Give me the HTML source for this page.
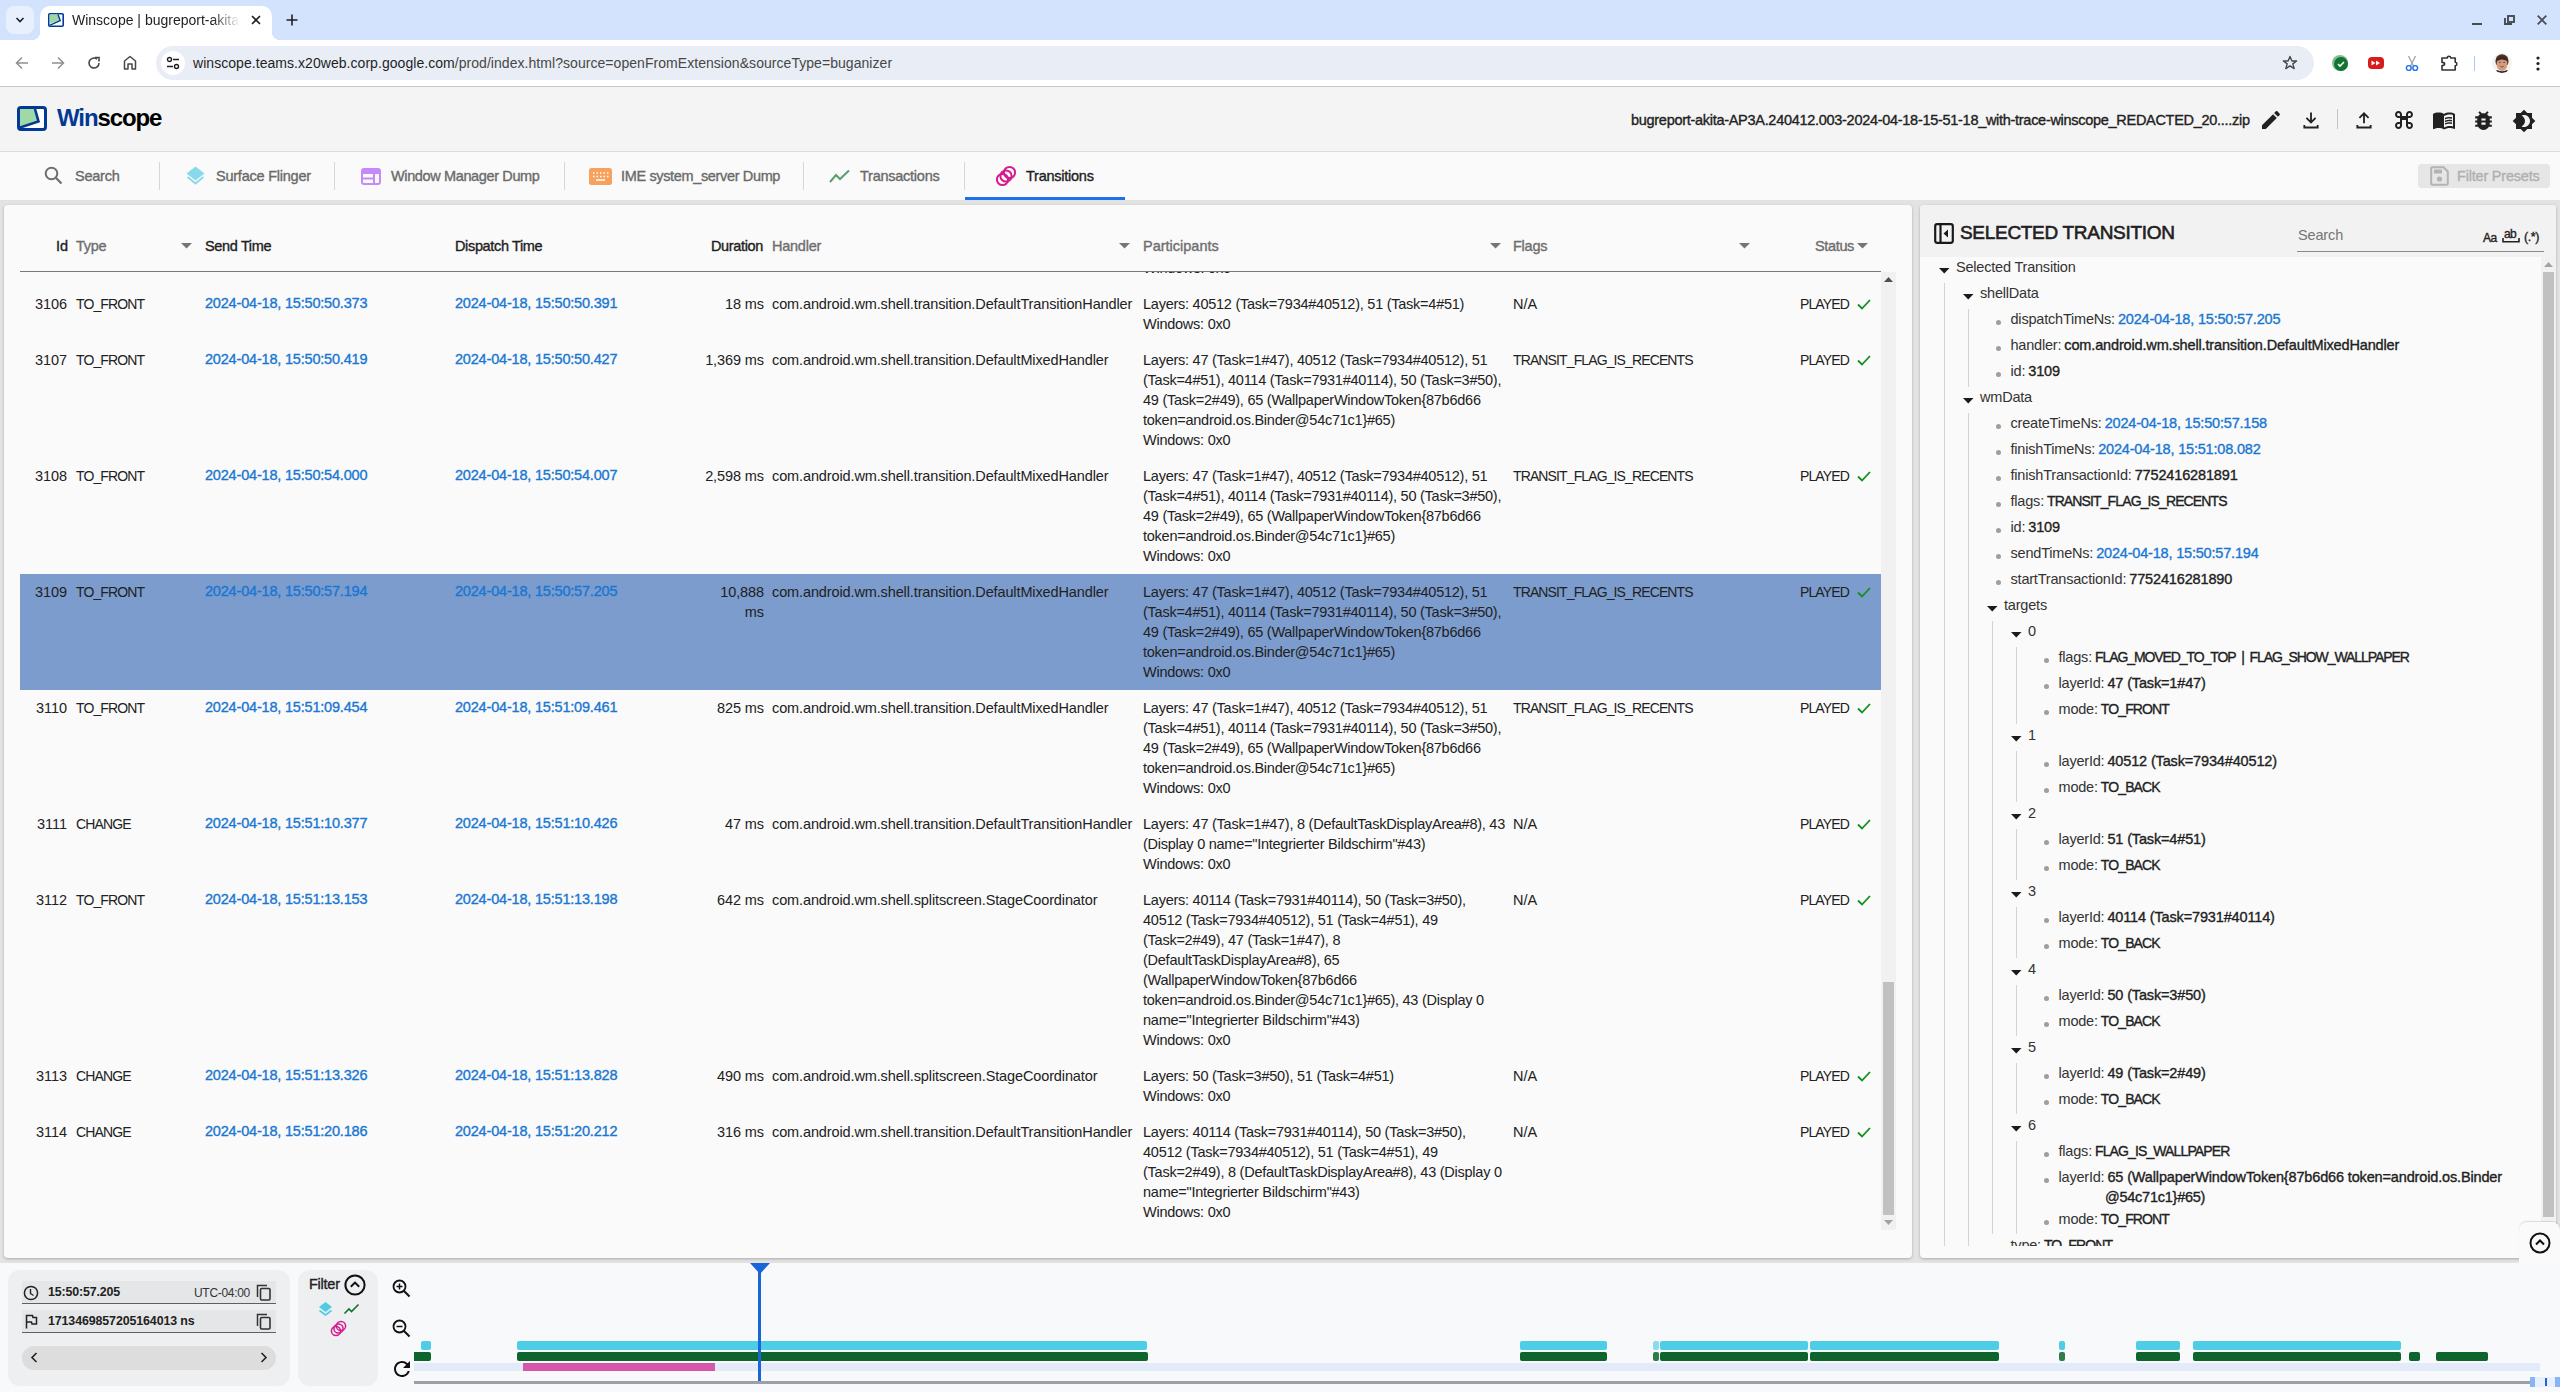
<!DOCTYPE html>
<html><head><meta charset="utf-8"><title>Winscope</title><style>
*{box-sizing:border-box;margin:0;padding:0}
html,body{width:2560px;height:1392px;overflow:hidden;background:#e3e3e3;font-family:"Liberation Sans",sans-serif;color:#212121}
.a{position:absolute}
.t{position:absolute;white-space:nowrap;font-size:14.5px;line-height:20px;letter-spacing:-0.45px}
.up{letter-spacing:-1.5px}
.md{-webkit-text-stroke:0.35px currentColor}
.blue{color:#1976d2}
svg{position:absolute;overflow:visible}
</style></head><body>
<div class="a" style="left:0;top:0;width:2560px;height:40px;background:#d3e3fd"></div>
<div class="a" style="left:6px;top:6px;width:28px;height:28px;border-radius:8px;background:#e8f0fe"></div>
<svg style="left:15px;top:16px" width="10" height="8" viewBox="0 0 10 8"><path d="M1.5 2 L5 5.5 L8.5 2" fill="none" stroke="#1f1f1f" stroke-width="1.6"/></svg>
<div class="a" style="left:40px;top:6px;width:232px;height:34px;background:#fff;border-radius:10px 10px 0 0"></div>
<div class="a" style="left:32px;top:32px;width:8px;height:8px;background:radial-gradient(circle at 0 0,#d3e3fd 8px,#fff 8px)"></div>
<div class="a" style="left:272px;top:32px;width:8px;height:8px;background:radial-gradient(circle at 100% 0,#d3e3fd 8px,#fff 8px)"></div>
<svg style="left:48px;top:13px" width="16" height="14" viewBox="0 0 16 14"><rect x="0.8" y="0.8" width="14.4" height="12.4" rx="1" fill="#fff" stroke="#003a9b" stroke-width="1.6"/><path d="M1.6 1.6 L10 1.6 L12 7.5 L1.6 10.5Z" fill="#9fd7a3"/><path d="M10 1.6 L12.2 7.6 L2 12.2" fill="none" stroke="#003a9b" stroke-width="1.4"/></svg>
<div class="t" style="left:72px;top:10px;font-size:14px;letter-spacing:0;color:#1f1f1f;width:168px;overflow:hidden;-webkit-mask-image:linear-gradient(90deg,#000 140px,transparent 168px)">Winscope | bugreport-akita-AP3A</div>
<svg style="left:251px;top:15px" width="10" height="10" viewBox="0 0 10 10"><path d="M1 1L9 9M9 1L1 9" stroke="#1f1f1f" stroke-width="1.6"/></svg>
<svg style="left:286px;top:14px" width="12" height="12" viewBox="0 0 12 12"><path d="M6 0.5V11.5M0.5 6H11.5" stroke="#1f1f1f" stroke-width="1.6"/></svg>
<div class="a" style="left:2472px;top:23px;width:10px;height:2px;background:#474c52"></div>
<svg style="left:2503px;top:14px" width="13" height="12" viewBox="0 0 13 12"><path d="M2 4V10H9" fill="none" stroke="#474c52" stroke-width="1.9"/><rect x="5" y="2" width="6" height="6" fill="none" stroke="#474c52" stroke-width="1.9"/></svg>
<svg style="left:2537px;top:15px" width="10" height="10" viewBox="0 0 10 10"><path d="M0.7 0.7L9.3 9.3M9.3 0.7L0.7 9.3" stroke="#474c52" stroke-width="1.7"/></svg>
<div class="a" style="left:0;top:40px;width:2560px;height:46px;background:#fff"></div>
<div class="a" style="left:0;top:86px;width:2560px;height:1px;background:#c7c7c7"></div>
<svg style="left:15px;top:56px" width="14" height="14" viewBox="0 0 14 14"><path d="M13 7H2M7 1.5L1.5 7L7 12.5" fill="none" stroke="#8f8f8f" stroke-width="1.5"/></svg>
<svg style="left:51px;top:56px" width="14" height="14" viewBox="0 0 14 14"><path d="M1 7H12M7 1.5L12.5 7L7 12.5" fill="none" stroke="#8f8f8f" stroke-width="1.5"/></svg>
<svg style="left:87px;top:56px" width="14" height="14" viewBox="0 0 14 14"><path d="M12 7A5 5 0 1 1 10 3" fill="none" stroke="#474747" stroke-width="1.6"/><path d="M8 1.5H12V5.5" fill="none" stroke="#474747" stroke-width="1.6"/></svg>
<svg style="left:123px;top:55px" width="14" height="15" viewBox="0 0 14 15"><path d="M1.5 14V6L7 1.5L12.5 6V14H9V9H5V14Z" fill="none" stroke="#474747" stroke-width="1.5" stroke-linejoin="round"/></svg>
<div class="a" style="left:156px;top:46px;width:2158px;height:34px;border-radius:17px;background:#e9eef6"></div>
<div class="a" style="left:161px;top:51px;width:24px;height:24px;border-radius:12px;background:#fff"></div>
<svg style="left:166px;top:56px" width="14" height="14" viewBox="0 0 14 14"><circle cx="3.5" cy="3.5" r="2" fill="none" stroke="#1f1f1f" stroke-width="1.4"/><path d="M7 3.5H13M1 10.5H7" stroke="#1f1f1f" stroke-width="1.4"/><circle cx="10.5" cy="10.5" r="2" fill="none" stroke="#1f1f1f" stroke-width="1.4"/></svg>
<div class="t" style="left:193px;top:53px;font-size:14px;letter-spacing:0.05px;color:#1f1f1f">winscope.teams.x20web.corp.google.com<span style="color:#474747">/prod/index.html?source=openFromExtension&amp;sourceType=buganizer</span></div>
<svg style="left:2282px;top:55px" width="16" height="16" viewBox="0 0 16 16"><path d="M8 1.5L9.9 6H14.6L10.8 8.9L12.2 13.6L8 10.8L3.8 13.6L5.2 8.9L1.4 6H6.1Z" fill="none" stroke="#474747" stroke-width="1.4" stroke-linejoin="round"/></svg>
<div class="a" style="left:2332px;top:55px;width:16px;height:16px;border-radius:8px;background:#7fbf8f"></div>
<div class="a" style="left:2334px;top:57px;width:14px;height:14px;border-radius:7px;background:#137333"></div>
<svg style="left:2337px;top:61px" width="8" height="6" viewBox="0 0 8 6"><path d="M1 3L3 5L7 1" fill="none" stroke="#fff" stroke-width="1.6"/></svg>
<div class="a" style="left:2368px;top:57px;width:16px;height:12px;border-radius:4px;background:#d81b1b"></div>
<svg style="left:2371px;top:60px" width="10" height="6" viewBox="0 0 10 6"><path d="M0.5 0.5L4.5 3L0.5 5.5ZM5 0.5L9 3L5 5.5Z" fill="#fff"/></svg>
<svg style="left:2405px;top:55px" width="14" height="17" viewBox="0 0 14 17"><path d="M3.5 1L8.5 11M10.5 1L5.5 11" stroke="#9aa0a6" stroke-width="1.2"/><circle cx="3.8" cy="13" r="2.4" fill="none" stroke="#1a73e8" stroke-width="1.4"/><circle cx="10.2" cy="13" r="2.4" fill="none" stroke="#1a73e8" stroke-width="1.4"/></svg>
<svg style="left:2440px;top:53px" width="19" height="19" viewBox="0 0 19 19"><path d="M2 5H7.3A1.7 1.7 0 0 1 10.7 5H15.2V9.3A1.7 1.7 0 0 1 15.2 12.7V17H2V12.6Q4.6 12.6 4.6 11Q4.6 9.4 2 9.4Z" fill="none" stroke="#333" stroke-width="1.6" stroke-linejoin="round"/></svg>
<div class="a" style="left:2474px;top:56px;width:1px;height:15px;background:#a8c7fa"></div>
<svg style="left:2492px;top:53px" width="20" height="20" viewBox="0 0 20 20"><defs><clipPath id="avc"><circle cx="10" cy="10" r="10"/></clipPath></defs><g clip-path="url(#avc)"><rect width="20" height="20" fill="#f4f2ea"/><ellipse cx="10" cy="8" rx="6.6" ry="6.8" fill="#4a3328"/><ellipse cx="10" cy="11" rx="5.4" ry="7" fill="#d49a80"/><path d="M4.5 5.5Q10 1.5 15.5 5.5L15 8Q10 5 5 8Z" fill="#3e2a20"/><path d="M7 9.3H8.6M11.4 9.3H13" stroke="#5a3a30" stroke-width="1"/><path d="M8.5 13.5Q10 14.2 11.5 13.5" stroke="#8a4a40" stroke-width="1" fill="none"/><path d="M2 20L5 17Q10 19.5 15 17L18 20Z" fill="#2a2030"/></g></svg>
<svg style="left:2536px;top:56px" width="4" height="15" viewBox="0 0 4 15"><circle cx="2" cy="2" r="1.6" fill="#1f1f1f"/><circle cx="2" cy="7.5" r="1.6" fill="#1f1f1f"/><circle cx="2" cy="13" r="1.6" fill="#1f1f1f"/></svg>
<div class="a" style="left:0;top:87px;width:2560px;height:64px;background:#f4f4f4"></div>
<div class="a" style="left:0;top:151px;width:2560px;height:1px;background:#dcdcdc"></div>
<svg style="left:17px;top:106px" width="30" height="25" viewBox="0 0 30 25"><rect x="1.5" y="1.5" width="27" height="22" rx="2.5" fill="#fff" stroke="#003a96" stroke-width="3"/><path d="M3 3H18L21.5 15.5L3 20Z" fill="#9fd9a5"/><path d="M18 3L21.5 15.5L3 21.5" fill="none" stroke="#003a96" stroke-width="2.6"/></svg>
<div class="t" style="left:57px;top:104px;font-size:24px;line-height:28px;font-weight:700;letter-spacing:-1.1px;color:#000"><span style="color:#003a96">Win</span>scope</div>
<div class="t md" style="left:1631px;top:110px;font-size:14.5px;letter-spacing:-0.29px;color:#212121">bugreport-akita-AP3A.240412.003-2024-04-18-15-51-18_with-trace-winscope_REDACTED_20....zip</div>
<svg style="left:2259px;top:108px" width="24" height="24" viewBox="0 0 24 24"><path d="M3 17.25V21h3.75L17.81 9.94l-3.75-3.75L3 17.25zM20.71 7.04c.39-.39.39-1.02 0-1.41l-2.34-2.34c-.39-.39-1.02-.39-1.41 0l-1.830 1.83 3.75 3.75 1.83-1.83z" fill="#212121"/></svg>
<svg style="left:2301px;top:110px" width="20" height="20" viewBox="0 0 24 24"><path d="M12 3V15M6.5 9.5L12 15L17.5 9.5M4 18V21H20V18" fill="none" stroke="#212121" stroke-width="2.2"/></svg>
<div class="a" style="left:2337px;top:109px;width:1px;height:20px;background:#c4c4c4"></div>
<svg style="left:2354px;top:110px" width="20" height="20" viewBox="0 0 24 24"><path d="M12 16V4M6.5 9.5L12 4L17.5 9.5M4 18V21H20V18" fill="none" stroke="#212121" stroke-width="2.2"/></svg>
<svg style="left:2392px;top:108px" width="24" height="24" viewBox="0 0 24 24"><path d="M17.5 3C15.57 3 14 4.57 14 6.5V8h-4V6.5C10 4.570 8.43 3 6.5 3S3 4.57 3 6.5 4.57 10 6.5 10H8v4H6.5C4.57 14 3 15.57 3 17.5S4.57 21 6.5 21s3.5-1.57 3.5-3.5V16h4v1.5c0 1.93 1.57 3.5 3.5 3.5s3.5-1.57 3.5-3.5-1.57-3.5-3.5-3.5H16v-4h1.5c1.93 0 3.5-1.57 3.5-3.5S19.43 3 17.5 3zM8 8H6.5C5.67 8 5 7.33 5 6.5S5.67 5 6.5 5 8 5.67 8 6.5V8zm6 8h-4v-4h4v4zm3.5 3c-.83 0-1.5-.67-1.5-1.5V16h1.5c.83 0 1.5.67 1.5 1.5s-.67 1.5-1.5 1.5zm0-11H16V6.5c0-.83.67-1.5 1.5-1.5s1.5.67 1.5 1.5S18.330 8 17.5 8zM6.5 19c-.83 0-1.5-.67-1.5-1.5S5.67 16 6.5 16H8v1.5c0 .83-.67 1.5-1.5 1.5z" fill="#212121"/></svg>
<svg style="left:2432px;top:107.5px" width="24" height="24" viewBox="0 0 24 24"><path fill-rule="evenodd" d="M21 5c-1.11-.35-2.33-.5-3.5-.5-1.95 0-4.05.4-5.5 1.5-1.45-1.1-3.55-1.5-5.5-1.5S2.45 4.9 1 6v14.65c0 .25.25.5.5.5.1 0 .15-.05.25-.05C3.1 20.45 5.05 20 6.5 20c1.95 0 4.05.4 5.5 1.5 1.35-.85 3.8-1.5 5.5-1.5 1.65 0 3.35.3 4.75 1.05.1.05.15.05.25.05.25 0 .5-.25.5-.5V6c-.6-.45-1.25-.75-2-1zm0 13.5c-1.1-.35-2.3-.5-3.5-.5-1.7 0-4.15.65-5.5 1.5V8c1.35-.85 3.8-1.5 5.5-1.5 1.2 0 2.4.15 3.5.5v11.5z" fill="#212121"/><path d="M17.5 10.5c.88 0 1.73.09 2.5.26V9.24c-.79-.15-1.64-.24-2.5-.24-1.7 0-3.24.29-4.5.83v1.66c1.13-.64 2.7-.99 4.5-.99zM13 12.49v1.66c1.13-.64 2.7-.99 4.5-.99.88 0 1.73.09 2.5.26V11.9c-.79-.15-1.640-.24-2.5-.24-1.7 0-3.24.3-4.5.83zM17.5 14.33c-1.7 0-3.24.29-4.5.83v1.66c1.13-.64 2.7-.99 4.5-.99.88 0 1.73.09 2.5.26v-1.52c-.79-.16-1.64-.24-2.5-.24z" fill="#212121"/></svg>
<svg style="left:2470.8px;top:107.9px" width="25" height="25" viewBox="0 0 24 24"><path d="M20 8h-2.81c-.45-.78-1.07-1.45-1.82-1.96L17 4.41 15.59 3l-2.17 2.17C12.96 5.06 12.49 5 12 5c-.49 0-.96.06-1.41.17L8.41 3 7 4.41l1.62 1.63C7.88 6.55 7.26 7.22 6.81 8H4v2h2.09c-.05.33-.09.66-.09 1v1H4v2h2v1c0 .34.04.67.09 1H4v2h2.81c1.04 1.79 2.97 3 5.19 3s4.150-1.21 5.19-3H20v-2h-2.09c.05-.33.09-.66.09-1v-1h2v-2h-2v-1c0-.34-.04-.67-.09-1H20V8zm-6 8h-4v-2h4v2zm0-4h-4v-2h4v2z" fill="#212121"/></svg>
<svg style="left:2512px;top:108.5px" width="24" height="24" viewBox="0 0 24 24"><path fill-rule="evenodd" d="M20 8.69V4h-4.69L12 .69 8.69 4H4v4.69L.69 12 4 15.31V20h4.69L12 23.31 15.31 20H20v-4.69L23.31 12 20 8.69zM12 18c-.89 0-1.74-.2-2.5-.55C11.56 16.5 13 14.42 13 12s-1.44-4.5-3.5-5.45C10.26 6.2 11.11 6 12 6c3.31 0 6 2.69 6 6s-2.69 6-6 6z" fill="#212121"/></svg>
<div class="a" style="left:0;top:152px;width:2560px;height:48px;background:#fafafa"></div>
<div class="a" style="left:159px;top:162px;width:1px;height:28px;background:#d6d6d6"></div>
<div class="a" style="left:334px;top:162px;width:1px;height:28px;background:#d6d6d6"></div>
<div class="a" style="left:564px;top:162px;width:1px;height:28px;background:#d6d6d6"></div>
<div class="a" style="left:803px;top:162px;width:1px;height:28px;background:#d6d6d6"></div>
<div class="a" style="left:964px;top:162px;width:1px;height:28px;background:#d6d6d6"></div>
<svg style="left:44px;top:166px" width="19" height="19" viewBox="0 0 19 19"><circle cx="7.5" cy="7.5" r="5.8" fill="none" stroke="#6e6e6e" stroke-width="2"/><path d="M11.8 11.8L17.5 17.5" stroke="#6e6e6e" stroke-width="2.2"/></svg>
<div class="t md" style="left:75px;top:166px;color:#6a6a6a;letter-spacing:-0.25px">Search</div>
<svg style="left:186px;top:166px" width="19" height="20" viewBox="0 0 19 20"><path d="M9.5 0.5L18.5 7.5L9.5 14.5L0.5 7.5Z" fill="#8ad9ea"/><path d="M1.5 11L9.5 17.5L17.5 11" fill="none" stroke="#8ad9ea" stroke-width="2"/></svg>
<div class="t md" style="left:216px;top:166px;color:#6a6a6a;letter-spacing:-0.23px">Surface Flinger</div>
<svg style="left:361px;top:168px" width="20" height="17" viewBox="0 0 20 17"><rect x="1" y="1" width="18" height="15" rx="2" fill="none" stroke="#c58af9" stroke-width="2"/><rect x="1" y="1" width="18" height="5" fill="#c58af9"/><path d="M1 10.5H13M13 6V16" stroke="#c58af9" stroke-width="2"/></svg>
<div class="t md" style="left:391px;top:166px;color:#6a6a6a;letter-spacing:-0.37px">Window Manager Dump</div>
<svg style="left:589px;top:168px" width="23" height="17" viewBox="0 0 23 17"><rect x="0" y="0" width="23" height="17" rx="2.5" fill="#f7a15c"/><path d="M4 5H5.5M7.5 5H9M11 5H12.5M14.5 5H16M18 5H19.5M4 8.5H5.5M7.5 8.5H9M11 8.5H12.5M14.5 8.5H16M18 8.5H19.5M7 12H16" stroke="#fff" stroke-width="1.6"/></svg>
<div class="t md" style="left:621px;top:166px;color:#6a6a6a;letter-spacing:-0.35px">IME system_server Dump</div>
<svg style="left:829px;top:169px" width="21" height="14" viewBox="0 0 21 14"><path d="M1 13L7 6L11 10L20 1.5" fill="none" stroke="#5b9e6e" stroke-width="2"/></svg>
<div class="t md" style="left:860px;top:166px;color:#6a6a6a;letter-spacing:-0.25px">Transactions</div>
<svg style="left:995px;top:165px" width="22" height="22" viewBox="0 0 22 22"><circle cx="7.5" cy="14.5" r="5.6" fill="none" stroke="#d61b8f" stroke-width="2"/><circle cx="11" cy="11" r="5.6" fill="none" stroke="#d61b8f" stroke-width="2"/><circle cx="14.5" cy="7.5" r="5.6" fill="none" stroke="#d61b8f" stroke-width="2"/></svg>
<div class="t md" style="left:1026px;top:166px;color:#212121;letter-spacing:-0.25px">Transitions</div>
<div class="a" style="left:965px;top:197px;width:160px;height:3px;background:#1a73e8"></div>
<div class="a" style="left:2418px;top:164px;width:132px;height:24px;border-radius:4px;background:#e6e6e6"></div>
<svg style="left:2430px;top:166px" width="19" height="20" viewBox="0 0 19 20"><path d="M2.5 1.2H13.5L17.8 5.5V17.5A1.3 1.3 0 0 1 16.5 18.8H2.5A1.3 1.3 0 0 1 1.2 17.5V2.5A1.3 1.3 0 0 1 2.5 1.2Z" fill="none" stroke="#b3b3b3" stroke-width="2"/><rect x="4" y="3.5" width="8" height="4" fill="#b3b3b3"/><circle cx="9.5" cy="13" r="2.6" fill="#b3b3b3"/></svg>
<div class="t md" style="left:2457px;top:166px;color:#b0b0b0;letter-spacing:-0.20px">Filter Presets</div>
<div class="a" style="left:4px;top:205px;width:1908px;height:1053px;background:#fafafa;border-radius:4px;box-shadow:0 1px 3px rgba(0,0,0,0.25)"></div>
<div class="a" style="left:1920px;top:205px;width:636px;height:1053px;background:#fafafa;border-radius:4px;box-shadow:0 1px 3px rgba(0,0,0,0.25)"></div>
<div class="a" style="left:20px;top:272px;width:1861px;height:958px;overflow:hidden">
<div class="t" style="left:1123px;top:-14px;color:#212121;letter-spacing:-0.2px">Windows: 0x0</div>
<div class="t" style="right:1814px;top:22px;color:#212121;letter-spacing:-0.05px">3106</div>
<div class="t up" style="font-size:14px;letter-spacing:-0.88px;left:56px;top:22px;color:#212121">TO_FRONT</div>
<div class="t md blue" style="left:185px;top:21px;letter-spacing:-0.19px">2024-04-18, 15:50:50.373</div>
<div class="t md blue" style="left:435px;top:21px;letter-spacing:-0.19px">2024-04-18, 15:50:50.391</div>
<div class="t" style="right:1117px;top:22px;color:#212121;letter-spacing:-0.10px">18 ms</div>
<div class="t" style="left:752px;top:22px;color:#212121;letter-spacing:-0.12px">com.android.wm.shell.transition.DefaultTransitionHandler</div>
<div class="t" style="left:1123px;top:22px;color:#212121;letter-spacing:-0.25px">Layers: 40512 (Task=7934#40512), 51 (Task=4#51)</div>
<div class="t" style="left:1123px;top:42px;color:#212121;letter-spacing:-0.25px">Windows: 0x0</div>
<div class="t" style="left:1493px;top:22px;color:#212121;letter-spacing:-0.05px">N/A</div>
<div class="t up" style="font-size:14px;letter-spacing:-0.88px;left:1780px;top:22px;color:#212121">PLAYED</div>
<svg style="left:1837px;top:27px" width="14" height="11" viewBox="0 0 14 11"><path d="M1 5.5L5 9.5L13 1" fill="none" stroke="#12901c" stroke-width="1.8"/></svg>
<div class="t" style="right:1814px;top:78px;color:#212121;letter-spacing:-0.05px">3107</div>
<div class="t up" style="font-size:14px;letter-spacing:-0.88px;left:56px;top:78px;color:#212121">TO_FRONT</div>
<div class="t md blue" style="left:185px;top:77px;letter-spacing:-0.19px">2024-04-18, 15:50:50.419</div>
<div class="t md blue" style="left:435px;top:77px;letter-spacing:-0.19px">2024-04-18, 15:50:50.427</div>
<div class="t" style="right:1117px;top:78px;color:#212121;letter-spacing:-0.10px">1,369 ms</div>
<div class="t" style="left:752px;top:78px;color:#212121;letter-spacing:-0.12px">com.android.wm.shell.transition.DefaultMixedHandler</div>
<div class="t" style="left:1123px;top:78px;color:#212121;letter-spacing:-0.25px">Layers: 47 (Task=1#47), 40512 (Task=7934#40512), 51</div>
<div class="t" style="left:1123px;top:98px;color:#212121;letter-spacing:-0.25px">(Task=4#51), 40114 (Task=7931#40114), 50 (Task=3#50),</div>
<div class="t" style="left:1123px;top:118px;color:#212121;letter-spacing:-0.25px">49 (Task=2#49), 65 (WallpaperWindowToken{87b6d66</div>
<div class="t" style="left:1123px;top:138px;color:#212121;letter-spacing:-0.25px">token=android.os.Binder@54c71c1}#65)</div>
<div class="t" style="left:1123px;top:158px;color:#212121;letter-spacing:-0.25px">Windows: 0x0</div>
<div class="t up" style="font-size:14px;letter-spacing:-0.88px;left:1493px;top:78px;color:#212121">TRANSIT_FLAG_IS_RECENTS</div>
<div class="t up" style="font-size:14px;letter-spacing:-0.88px;left:1780px;top:78px;color:#212121">PLAYED</div>
<svg style="left:1837px;top:83px" width="14" height="11" viewBox="0 0 14 11"><path d="M1 5.5L5 9.5L13 1" fill="none" stroke="#12901c" stroke-width="1.8"/></svg>
<div class="t" style="right:1814px;top:194px;color:#212121;letter-spacing:-0.05px">3108</div>
<div class="t up" style="font-size:14px;letter-spacing:-0.88px;left:56px;top:194px;color:#212121">TO_FRONT</div>
<div class="t md blue" style="left:185px;top:193px;letter-spacing:-0.19px">2024-04-18, 15:50:54.000</div>
<div class="t md blue" style="left:435px;top:193px;letter-spacing:-0.19px">2024-04-18, 15:50:54.007</div>
<div class="t" style="right:1117px;top:194px;color:#212121;letter-spacing:-0.10px">2,598 ms</div>
<div class="t" style="left:752px;top:194px;color:#212121;letter-spacing:-0.12px">com.android.wm.shell.transition.DefaultMixedHandler</div>
<div class="t" style="left:1123px;top:194px;color:#212121;letter-spacing:-0.25px">Layers: 47 (Task=1#47), 40512 (Task=7934#40512), 51</div>
<div class="t" style="left:1123px;top:214px;color:#212121;letter-spacing:-0.25px">(Task=4#51), 40114 (Task=7931#40114), 50 (Task=3#50),</div>
<div class="t" style="left:1123px;top:234px;color:#212121;letter-spacing:-0.25px">49 (Task=2#49), 65 (WallpaperWindowToken{87b6d66</div>
<div class="t" style="left:1123px;top:254px;color:#212121;letter-spacing:-0.25px">token=android.os.Binder@54c71c1}#65)</div>
<div class="t" style="left:1123px;top:274px;color:#212121;letter-spacing:-0.25px">Windows: 0x0</div>
<div class="t up" style="font-size:14px;letter-spacing:-0.88px;left:1493px;top:194px;color:#212121">TRANSIT_FLAG_IS_RECENTS</div>
<div class="t up" style="font-size:14px;letter-spacing:-0.88px;left:1780px;top:194px;color:#212121">PLAYED</div>
<svg style="left:1837px;top:199px" width="14" height="11" viewBox="0 0 14 11"><path d="M1 5.5L5 9.5L13 1" fill="none" stroke="#12901c" stroke-width="1.8"/></svg>
<div class="a" style="left:0;top:302px;width:1861px;height:116px;background:#7b9ccd"></div>
<div class="t" style="right:1814px;top:310px;color:#212121;letter-spacing:-0.05px">3109</div>
<div class="t up" style="font-size:14px;letter-spacing:-0.88px;left:56px;top:310px;color:#212121">TO_FRONT</div>
<div class="t md blue" style="left:185px;top:309px;letter-spacing:-0.19px">2024-04-18, 15:50:57.194</div>
<div class="t md blue" style="left:435px;top:309px;letter-spacing:-0.19px">2024-04-18, 15:50:57.205</div>
<div class="t" style="right:1117px;top:310px;color:#212121;letter-spacing:-0.10px">10,888</div>
<div class="t" style="right:1117px;top:330px;color:#212121;letter-spacing:-0.10px">ms</div>
<div class="t" style="left:752px;top:310px;color:#212121;letter-spacing:-0.12px">com.android.wm.shell.transition.DefaultMixedHandler</div>
<div class="t" style="left:1123px;top:310px;color:#212121;letter-spacing:-0.25px">Layers: 47 (Task=1#47), 40512 (Task=7934#40512), 51</div>
<div class="t" style="left:1123px;top:330px;color:#212121;letter-spacing:-0.25px">(Task=4#51), 40114 (Task=7931#40114), 50 (Task=3#50),</div>
<div class="t" style="left:1123px;top:350px;color:#212121;letter-spacing:-0.25px">49 (Task=2#49), 65 (WallpaperWindowToken{87b6d66</div>
<div class="t" style="left:1123px;top:370px;color:#212121;letter-spacing:-0.25px">token=android.os.Binder@54c71c1}#65)</div>
<div class="t" style="left:1123px;top:390px;color:#212121;letter-spacing:-0.25px">Windows: 0x0</div>
<div class="t up" style="font-size:14px;letter-spacing:-0.88px;left:1493px;top:310px;color:#212121">TRANSIT_FLAG_IS_RECENTS</div>
<div class="t up" style="font-size:14px;letter-spacing:-0.88px;left:1780px;top:310px;color:#212121">PLAYED</div>
<svg style="left:1837px;top:315px" width="14" height="11" viewBox="0 0 14 11"><path d="M1 5.5L5 9.5L13 1" fill="none" stroke="#12901c" stroke-width="1.8"/></svg>
<div class="t" style="right:1814px;top:426px;color:#212121;letter-spacing:-0.05px">3110</div>
<div class="t up" style="font-size:14px;letter-spacing:-0.88px;left:56px;top:426px;color:#212121">TO_FRONT</div>
<div class="t md blue" style="left:185px;top:425px;letter-spacing:-0.19px">2024-04-18, 15:51:09.454</div>
<div class="t md blue" style="left:435px;top:425px;letter-spacing:-0.19px">2024-04-18, 15:51:09.461</div>
<div class="t" style="right:1117px;top:426px;color:#212121;letter-spacing:-0.10px">825 ms</div>
<div class="t" style="left:752px;top:426px;color:#212121;letter-spacing:-0.12px">com.android.wm.shell.transition.DefaultMixedHandler</div>
<div class="t" style="left:1123px;top:426px;color:#212121;letter-spacing:-0.25px">Layers: 47 (Task=1#47), 40512 (Task=7934#40512), 51</div>
<div class="t" style="left:1123px;top:446px;color:#212121;letter-spacing:-0.25px">(Task=4#51), 40114 (Task=7931#40114), 50 (Task=3#50),</div>
<div class="t" style="left:1123px;top:466px;color:#212121;letter-spacing:-0.25px">49 (Task=2#49), 65 (WallpaperWindowToken{87b6d66</div>
<div class="t" style="left:1123px;top:486px;color:#212121;letter-spacing:-0.25px">token=android.os.Binder@54c71c1}#65)</div>
<div class="t" style="left:1123px;top:506px;color:#212121;letter-spacing:-0.25px">Windows: 0x0</div>
<div class="t up" style="font-size:14px;letter-spacing:-0.88px;left:1493px;top:426px;color:#212121">TRANSIT_FLAG_IS_RECENTS</div>
<div class="t up" style="font-size:14px;letter-spacing:-0.88px;left:1780px;top:426px;color:#212121">PLAYED</div>
<svg style="left:1837px;top:431px" width="14" height="11" viewBox="0 0 14 11"><path d="M1 5.5L5 9.5L13 1" fill="none" stroke="#12901c" stroke-width="1.8"/></svg>
<div class="t" style="right:1814px;top:542px;color:#212121;letter-spacing:-0.05px">3111</div>
<div class="t up" style="font-size:14px;letter-spacing:-0.88px;left:56px;top:542px;color:#212121">CHANGE</div>
<div class="t md blue" style="left:185px;top:541px;letter-spacing:-0.19px">2024-04-18, 15:51:10.377</div>
<div class="t md blue" style="left:435px;top:541px;letter-spacing:-0.19px">2024-04-18, 15:51:10.426</div>
<div class="t" style="right:1117px;top:542px;color:#212121;letter-spacing:-0.10px">47 ms</div>
<div class="t" style="left:752px;top:542px;color:#212121;letter-spacing:-0.12px">com.android.wm.shell.transition.DefaultTransitionHandler</div>
<div class="t" style="left:1123px;top:542px;color:#212121;letter-spacing:-0.25px">Layers: 47 (Task=1#47), 8 (DefaultTaskDisplayArea#8), 43</div>
<div class="t" style="left:1123px;top:562px;color:#212121;letter-spacing:-0.25px">(Display 0 name="Integrierter Bildschirm"#43)</div>
<div class="t" style="left:1123px;top:582px;color:#212121;letter-spacing:-0.25px">Windows: 0x0</div>
<div class="t" style="left:1493px;top:542px;color:#212121;letter-spacing:-0.05px">N/A</div>
<div class="t up" style="font-size:14px;letter-spacing:-0.88px;left:1780px;top:542px;color:#212121">PLAYED</div>
<svg style="left:1837px;top:547px" width="14" height="11" viewBox="0 0 14 11"><path d="M1 5.5L5 9.5L13 1" fill="none" stroke="#12901c" stroke-width="1.8"/></svg>
<div class="t" style="right:1814px;top:618px;color:#212121;letter-spacing:-0.05px">3112</div>
<div class="t up" style="font-size:14px;letter-spacing:-0.88px;left:56px;top:618px;color:#212121">TO_FRONT</div>
<div class="t md blue" style="left:185px;top:617px;letter-spacing:-0.19px">2024-04-18, 15:51:13.153</div>
<div class="t md blue" style="left:435px;top:617px;letter-spacing:-0.19px">2024-04-18, 15:51:13.198</div>
<div class="t" style="right:1117px;top:618px;color:#212121;letter-spacing:-0.10px">642 ms</div>
<div class="t" style="left:752px;top:618px;color:#212121;letter-spacing:-0.12px">com.android.wm.shell.splitscreen.StageCoordinator</div>
<div class="t" style="left:1123px;top:618px;color:#212121;letter-spacing:-0.25px">Layers: 40114 (Task=7931#40114), 50 (Task=3#50),</div>
<div class="t" style="left:1123px;top:638px;color:#212121;letter-spacing:-0.25px">40512 (Task=7934#40512), 51 (Task=4#51), 49</div>
<div class="t" style="left:1123px;top:658px;color:#212121;letter-spacing:-0.25px">(Task=2#49), 47 (Task=1#47), 8</div>
<div class="t" style="left:1123px;top:678px;color:#212121;letter-spacing:-0.25px">(DefaultTaskDisplayArea#8), 65</div>
<div class="t" style="left:1123px;top:698px;color:#212121;letter-spacing:-0.25px">(WallpaperWindowToken{87b6d66</div>
<div class="t" style="left:1123px;top:718px;color:#212121;letter-spacing:-0.25px">token=android.os.Binder@54c71c1}#65), 43 (Display 0</div>
<div class="t" style="left:1123px;top:738px;color:#212121;letter-spacing:-0.25px">name="Integrierter Bildschirm"#43)</div>
<div class="t" style="left:1123px;top:758px;color:#212121;letter-spacing:-0.25px">Windows: 0x0</div>
<div class="t" style="left:1493px;top:618px;color:#212121;letter-spacing:-0.05px">N/A</div>
<div class="t up" style="font-size:14px;letter-spacing:-0.88px;left:1780px;top:618px;color:#212121">PLAYED</div>
<svg style="left:1837px;top:623px" width="14" height="11" viewBox="0 0 14 11"><path d="M1 5.5L5 9.5L13 1" fill="none" stroke="#12901c" stroke-width="1.8"/></svg>
<div class="t" style="right:1814px;top:794px;color:#212121;letter-spacing:-0.05px">3113</div>
<div class="t up" style="font-size:14px;letter-spacing:-0.88px;left:56px;top:794px;color:#212121">CHANGE</div>
<div class="t md blue" style="left:185px;top:793px;letter-spacing:-0.19px">2024-04-18, 15:51:13.326</div>
<div class="t md blue" style="left:435px;top:793px;letter-spacing:-0.19px">2024-04-18, 15:51:13.828</div>
<div class="t" style="right:1117px;top:794px;color:#212121;letter-spacing:-0.10px">490 ms</div>
<div class="t" style="left:752px;top:794px;color:#212121;letter-spacing:-0.12px">com.android.wm.shell.splitscreen.StageCoordinator</div>
<div class="t" style="left:1123px;top:794px;color:#212121;letter-spacing:-0.25px">Layers: 50 (Task=3#50), 51 (Task=4#51)</div>
<div class="t" style="left:1123px;top:814px;color:#212121;letter-spacing:-0.25px">Windows: 0x0</div>
<div class="t" style="left:1493px;top:794px;color:#212121;letter-spacing:-0.05px">N/A</div>
<div class="t up" style="font-size:14px;letter-spacing:-0.88px;left:1780px;top:794px;color:#212121">PLAYED</div>
<svg style="left:1837px;top:799px" width="14" height="11" viewBox="0 0 14 11"><path d="M1 5.5L5 9.5L13 1" fill="none" stroke="#12901c" stroke-width="1.8"/></svg>
<div class="t" style="right:1814px;top:850px;color:#212121;letter-spacing:-0.05px">3114</div>
<div class="t up" style="font-size:14px;letter-spacing:-0.88px;left:56px;top:850px;color:#212121">CHANGE</div>
<div class="t md blue" style="left:185px;top:849px;letter-spacing:-0.19px">2024-04-18, 15:51:20.186</div>
<div class="t md blue" style="left:435px;top:849px;letter-spacing:-0.19px">2024-04-18, 15:51:20.212</div>
<div class="t" style="right:1117px;top:850px;color:#212121;letter-spacing:-0.10px">316 ms</div>
<div class="t" style="left:752px;top:850px;color:#212121;letter-spacing:-0.12px">com.android.wm.shell.transition.DefaultTransitionHandler</div>
<div class="t" style="left:1123px;top:850px;color:#212121;letter-spacing:-0.25px">Layers: 40114 (Task=7931#40114), 50 (Task=3#50),</div>
<div class="t" style="left:1123px;top:870px;color:#212121;letter-spacing:-0.25px">40512 (Task=7934#40512), 51 (Task=4#51), 49</div>
<div class="t" style="left:1123px;top:890px;color:#212121;letter-spacing:-0.25px">(Task=2#49), 8 (DefaultTaskDisplayArea#8), 43 (Display 0</div>
<div class="t" style="left:1123px;top:910px;color:#212121;letter-spacing:-0.25px">name="Integrierter Bildschirm"#43)</div>
<div class="t" style="left:1123px;top:930px;color:#212121;letter-spacing:-0.25px">Windows: 0x0</div>
<div class="t" style="left:1493px;top:850px;color:#212121;letter-spacing:-0.05px">N/A</div>
<div class="t up" style="font-size:14px;letter-spacing:-0.88px;left:1780px;top:850px;color:#212121">PLAYED</div>
<svg style="left:1837px;top:855px" width="14" height="11" viewBox="0 0 14 11"><path d="M1 5.5L5 9.5L13 1" fill="none" stroke="#12901c" stroke-width="1.8"/></svg>
</div>
<div class="t md" style="left:56px;top:236px;color:#212121;letter-spacing:-0.05px">Id</div>
<div class="t md" style="left:76px;top:236px;color:#6e6e6e;letter-spacing:-0.25px">Type</div>
<div class="t md" style="left:205px;top:236px;color:#212121;letter-spacing:-0.35px">Send Time</div>
<div class="t md" style="left:455px;top:236px;color:#212121;letter-spacing:-0.35px">Dispatch Time</div>
<div class="t md" style="left:711px;top:236px;color:#212121;letter-spacing:-0.35px">Duration</div>
<div class="t md" style="left:772px;top:236px;color:#6e6e6e;letter-spacing:-0.25px">Handler</div>
<div class="t md" style="left:1143px;top:236px;color:#6e6e6e;letter-spacing:0.00px">Participants</div>
<div class="t md" style="left:1513px;top:236px;color:#6e6e6e;letter-spacing:-0.25px">Flags</div>
<div class="t md" style="left:1815px;top:236px;color:#6e6e6e;letter-spacing:-0.35px">Status</div>
<svg style="left:181px;top:243px" width="11" height="6" viewBox="0 0 11 6"><path d="M0 0H11L5.5 5.5Z" fill="#757575"/></svg>
<svg style="left:1119px;top:243px" width="11" height="6" viewBox="0 0 11 6"><path d="M0 0H11L5.5 5.5Z" fill="#757575"/></svg>
<svg style="left:1490px;top:243px" width="11" height="6" viewBox="0 0 11 6"><path d="M0 0H11L5.5 5.5Z" fill="#757575"/></svg>
<svg style="left:1739px;top:243px" width="11" height="6" viewBox="0 0 11 6"><path d="M0 0H11L5.5 5.5Z" fill="#757575"/></svg>
<svg style="left:1857px;top:243px" width="11" height="6" viewBox="0 0 11 6"><path d="M0 0H11L5.5 5.5Z" fill="#757575"/></svg>
<div class="a" style="left:20px;top:271px;width:1861px;height:1px;background:#7a7a7a"></div>
<div class="a" style="left:1881px;top:272px;width:15px;height:958px;background:#f1f1f1"></div>
<svg style="left:1884px;top:277px" width="9" height="5" viewBox="0 0 9 5"><path d="M0 5H9L4.5 0Z" fill="#505050"/></svg>
<svg style="left:1884px;top:1220px" width="9" height="5" viewBox="0 0 9 5"><path d="M0 0H9L4.5 5Z" fill="#a3a3a3"/></svg>
<div class="a" style="left:1883px;top:982px;width:11px;height:233px;background:#c1c1c1"></div>
<div class="a" style="left:1920px;top:205px;width:636px;height:52px;background:#f2f2f2;border-radius:4px 4px 0 0"></div>
<svg style="left:1934px;top:223px" width="20" height="21" viewBox="0 0 20 21"><rect x="1.2" y="1.2" width="17.6" height="18.6" rx="2" fill="none" stroke="#1a1a1a" stroke-width="2.2"/><path d="M6.5 1.5V19.5" stroke="#1a1a1a" stroke-width="2.2"/><path d="M14 6.5V14.5L9.5 10.5Z" fill="#1a1a1a"/></svg>
<div class="t" style="left:1960px;top:221px;font-size:19px;line-height:24px;font-weight:400;-webkit-text-stroke:0.6px #212121;letter-spacing:-0.3px;color:#212121">SELECTED TRANSITION</div>
<div class="t" style="left:2298px;top:225px;color:#757575;letter-spacing:-0.15px">Search</div>
<div class="a" style="left:2297px;top:251px;width:247px;height:1px;background:#8a8a8a"></div>
<div class="t md" style="left:2483px;top:228px;font-size:12px;letter-spacing:-0.6px;color:#212121">Aa</div>
<div class="t md" style="left:2504px;top:224px;font-size:12px;letter-spacing:-0.6px;color:#212121">ab</div>
<svg style="left:2502px;top:238px" width="18" height="5" viewBox="0 0 18 5"><path d="M1 0V3.8H17V0" fill="none" stroke="#212121" stroke-width="1.6"/></svg>
<div class="t md" style="left:2524px;top:227px;font-size:12.5px;letter-spacing:-0.4px;color:#212121">(.*)</div>
<div class="a" style="left:2541px;top:257px;width:15px;height:965px;background:#f1f1f1"></div>
<svg style="left:2544px;top:262px" width="9" height="5" viewBox="0 0 9 5"><path d="M0 5H9L4.5 0Z" fill="#a3a3a3"/></svg>
<div class="a" style="left:2543px;top:272px;width:11px;height:945px;background:#c1c1c1"></div>
<div class="a" style="left:1920px;top:257px;width:621px;height:989px;overflow:hidden">
<div class="a" style="left:24px;top:26px;width:1px;height:963px;background:#d4d4d4"></div>
<div class="a" style="left:48px;top:52px;width:1px;height:78px;background:#d4d4d4"></div>
<div class="a" style="left:48px;top:156px;width:1px;height:833px;background:#d4d4d4"></div>
<div class="a" style="left:72px;top:364px;width:1px;height:613px;background:#d4d4d4"></div>
<svg style="left:19px;top:11.399999999999977px" width="11" height="6" viewBox="0 0 11 6"><path d="M0 0H10.5L5.25 5.5Z" fill="#1a1a1a"/></svg>
<div class="t" style="left:36px;top:0.39999999999997726px;color:#333;letter-spacing:-0.20px">Selected Transition</div>
<svg style="left:43px;top:37.39999999999998px" width="11" height="6" viewBox="0 0 11 6"><path d="M0 0H10.5L5.25 5.5Z" fill="#1a1a1a"/></svg>
<div class="t" style="left:60px;top:26.399999999999977px;color:#333;letter-spacing:-0.20px">shellData</div>
<div class="a" style="left:76px;top:62.89999999999998px;width:5px;height:5px;border-radius:50%;background:#9e9e9e"></div>
<div class="t" style="left:90.5px;top:52.39999999999998px;color:#333;letter-spacing:-0.20px">dispatchTimeNs:<span class="md blue" style="margin-left:3px;letter-spacing:-0.19px">2024-04-18, 15:50:57.205</span></div>
<div class="a" style="left:76px;top:88.89999999999998px;width:5px;height:5px;border-radius:50%;background:#9e9e9e"></div>
<div class="t" style="left:90.5px;top:78.39999999999998px;color:#333;letter-spacing:-0.20px">handler:<span class="md" style="color:#212121;margin-left:3px;letter-spacing:-0.15px">com.android.wm.shell.transition.DefaultMixedHandler</span></div>
<div class="a" style="left:76px;top:114.89999999999998px;width:5px;height:5px;border-radius:50%;background:#9e9e9e"></div>
<div class="t" style="left:90.5px;top:104.39999999999998px;color:#333;letter-spacing:-0.20px">id:<span class="md" style="color:#212121;margin-left:3px;letter-spacing:-0.15px">3109</span></div>
<svg style="left:43px;top:141.39999999999998px" width="11" height="6" viewBox="0 0 11 6"><path d="M0 0H10.5L5.25 5.5Z" fill="#1a1a1a"/></svg>
<div class="t" style="left:60px;top:130.39999999999998px;color:#333;letter-spacing:-0.20px">wmData</div>
<div class="a" style="left:76px;top:166.89999999999998px;width:5px;height:5px;border-radius:50%;background:#9e9e9e"></div>
<div class="t" style="left:90.5px;top:156.39999999999998px;color:#333;letter-spacing:-0.20px">createTimeNs:<span class="md blue" style="margin-left:3px;letter-spacing:-0.19px">2024-04-18, 15:50:57.158</span></div>
<div class="a" style="left:76px;top:192.89999999999998px;width:5px;height:5px;border-radius:50%;background:#9e9e9e"></div>
<div class="t" style="left:90.5px;top:182.39999999999998px;color:#333;letter-spacing:-0.20px">finishTimeNs:<span class="md blue" style="margin-left:3px;letter-spacing:-0.19px">2024-04-18, 15:51:08.082</span></div>
<div class="a" style="left:76px;top:218.89999999999998px;width:5px;height:5px;border-radius:50%;background:#9e9e9e"></div>
<div class="t" style="left:90.5px;top:208.39999999999998px;color:#333;letter-spacing:-0.20px">finishTransactionId:<span class="md" style="color:#212121;margin-left:3px;letter-spacing:-0.15px">7752416281891</span></div>
<div class="a" style="left:76px;top:244.89999999999998px;width:5px;height:5px;border-radius:50%;background:#9e9e9e"></div>
<div class="t" style="left:90.5px;top:234.39999999999998px;color:#333;letter-spacing:-0.20px">flags:<span class="md" style="color:#212121;margin-left:3px;letter-spacing:-0.88px;font-size:14px">TRANSIT_FLAG_IS_RECENTS</span></div>
<div class="a" style="left:76px;top:270.9px;width:5px;height:5px;border-radius:50%;background:#9e9e9e"></div>
<div class="t" style="left:90.5px;top:260.4px;color:#333;letter-spacing:-0.20px">id:<span class="md" style="color:#212121;margin-left:3px;letter-spacing:-0.15px">3109</span></div>
<div class="a" style="left:76px;top:296.9px;width:5px;height:5px;border-radius:50%;background:#9e9e9e"></div>
<div class="t" style="left:90.5px;top:286.4px;color:#333;letter-spacing:-0.20px">sendTimeNs:<span class="md blue" style="margin-left:3px;letter-spacing:-0.19px">2024-04-18, 15:50:57.194</span></div>
<div class="a" style="left:76px;top:322.9px;width:5px;height:5px;border-radius:50%;background:#9e9e9e"></div>
<div class="t" style="left:90.5px;top:312.4px;color:#333;letter-spacing:-0.20px">startTransactionId:<span class="md" style="color:#212121;margin-left:3px;letter-spacing:-0.15px">7752416281890</span></div>
<svg style="left:67px;top:349.4px" width="11" height="6" viewBox="0 0 11 6"><path d="M0 0H10.5L5.25 5.5Z" fill="#1a1a1a"/></svg>
<div class="t" style="left:84px;top:338.4px;color:#333;letter-spacing:-0.20px">targets</div>
<svg style="left:91px;top:375.4px" width="11" height="6" viewBox="0 0 11 6"><path d="M0 0H10.5L5.25 5.5Z" fill="#1a1a1a"/></svg>
<div class="t" style="left:108px;top:364.4px;color:#333;letter-spacing:-0.20px">0</div>
<div class="a" style="left:96px;top:389.9px;width:1px;height:77.5px;background:#d4d4d4"></div>
<div class="a" style="left:124px;top:400.9px;width:5px;height:5px;border-radius:50%;background:#9e9e9e"></div>
<div class="t" style="left:138.5px;top:390.4px;color:#333;letter-spacing:-0.20px">flags:<span class="md" style="color:#212121;margin-left:3px;letter-spacing:-1.08px;word-spacing:3px;font-size:14px">FLAG_MOVED_TO_TOP | FLAG_SHOW_WALLPAPER</span></div>
<div class="a" style="left:124px;top:426.9px;width:5px;height:5px;border-radius:50%;background:#9e9e9e"></div>
<div class="t" style="left:138.5px;top:416.4px;color:#333;letter-spacing:-0.20px">layerId:<span class="md" style="color:#212121;margin-left:3px;letter-spacing:-0.15px">47 (Task=1#47)</span></div>
<div class="a" style="left:124px;top:452.9px;width:5px;height:5px;border-radius:50%;background:#9e9e9e"></div>
<div class="t" style="left:138.5px;top:442.4px;color:#333;letter-spacing:-0.20px">mode:<span class="md" style="color:#212121;margin-left:3px;letter-spacing:-0.88px;font-size:14px">TO_FRONT</span></div>
<svg style="left:91px;top:479.4px" width="11" height="6" viewBox="0 0 11 6"><path d="M0 0H10.5L5.25 5.5Z" fill="#1a1a1a"/></svg>
<div class="t" style="left:108px;top:468.4px;color:#333;letter-spacing:-0.20px">1</div>
<div class="a" style="left:96px;top:493.9px;width:1px;height:51.5px;background:#d4d4d4"></div>
<div class="a" style="left:124px;top:504.9px;width:5px;height:5px;border-radius:50%;background:#9e9e9e"></div>
<div class="t" style="left:138.5px;top:494.4px;color:#333;letter-spacing:-0.20px">layerId:<span class="md" style="color:#212121;margin-left:3px;letter-spacing:-0.15px">40512 (Task=7934#40512)</span></div>
<div class="a" style="left:124px;top:530.9px;width:5px;height:5px;border-radius:50%;background:#9e9e9e"></div>
<div class="t" style="left:138.5px;top:520.4px;color:#333;letter-spacing:-0.20px">mode:<span class="md" style="color:#212121;margin-left:3px;letter-spacing:-0.88px;font-size:14px">TO_BACK</span></div>
<svg style="left:91px;top:557.4px" width="11" height="6" viewBox="0 0 11 6"><path d="M0 0H10.5L5.25 5.5Z" fill="#1a1a1a"/></svg>
<div class="t" style="left:108px;top:546.4px;color:#333;letter-spacing:-0.20px">2</div>
<div class="a" style="left:96px;top:571.9px;width:1px;height:51.5px;background:#d4d4d4"></div>
<div class="a" style="left:124px;top:582.9px;width:5px;height:5px;border-radius:50%;background:#9e9e9e"></div>
<div class="t" style="left:138.5px;top:572.4px;color:#333;letter-spacing:-0.20px">layerId:<span class="md" style="color:#212121;margin-left:3px;letter-spacing:-0.15px">51 (Task=4#51)</span></div>
<div class="a" style="left:124px;top:608.9px;width:5px;height:5px;border-radius:50%;background:#9e9e9e"></div>
<div class="t" style="left:138.5px;top:598.4px;color:#333;letter-spacing:-0.20px">mode:<span class="md" style="color:#212121;margin-left:3px;letter-spacing:-0.88px;font-size:14px">TO_BACK</span></div>
<svg style="left:91px;top:635.4px" width="11" height="6" viewBox="0 0 11 6"><path d="M0 0H10.5L5.25 5.5Z" fill="#1a1a1a"/></svg>
<div class="t" style="left:108px;top:624.4px;color:#333;letter-spacing:-0.20px">3</div>
<div class="a" style="left:96px;top:649.9px;width:1px;height:51.5px;background:#d4d4d4"></div>
<div class="a" style="left:124px;top:660.9px;width:5px;height:5px;border-radius:50%;background:#9e9e9e"></div>
<div class="t" style="left:138.5px;top:650.4px;color:#333;letter-spacing:-0.20px">layerId:<span class="md" style="color:#212121;margin-left:3px;letter-spacing:-0.15px">40114 (Task=7931#40114)</span></div>
<div class="a" style="left:124px;top:686.9px;width:5px;height:5px;border-radius:50%;background:#9e9e9e"></div>
<div class="t" style="left:138.5px;top:676.4px;color:#333;letter-spacing:-0.20px">mode:<span class="md" style="color:#212121;margin-left:3px;letter-spacing:-0.88px;font-size:14px">TO_BACK</span></div>
<svg style="left:91px;top:713.4px" width="11" height="6" viewBox="0 0 11 6"><path d="M0 0H10.5L5.25 5.5Z" fill="#1a1a1a"/></svg>
<div class="t" style="left:108px;top:702.4px;color:#333;letter-spacing:-0.20px">4</div>
<div class="a" style="left:96px;top:727.9px;width:1px;height:51.500000000000114px;background:#d4d4d4"></div>
<div class="a" style="left:124px;top:738.9px;width:5px;height:5px;border-radius:50%;background:#9e9e9e"></div>
<div class="t" style="left:138.5px;top:728.4px;color:#333;letter-spacing:-0.20px">layerId:<span class="md" style="color:#212121;margin-left:3px;letter-spacing:-0.15px">50 (Task=3#50)</span></div>
<div class="a" style="left:124px;top:764.9000000000001px;width:5px;height:5px;border-radius:50%;background:#9e9e9e"></div>
<div class="t" style="left:138.5px;top:754.4000000000001px;color:#333;letter-spacing:-0.20px">mode:<span class="md" style="color:#212121;margin-left:3px;letter-spacing:-0.88px;font-size:14px">TO_BACK</span></div>
<svg style="left:91px;top:791.4000000000001px" width="11" height="6" viewBox="0 0 11 6"><path d="M0 0H10.5L5.25 5.5Z" fill="#1a1a1a"/></svg>
<div class="t" style="left:108px;top:780.4000000000001px;color:#333;letter-spacing:-0.20px">5</div>
<div class="a" style="left:96px;top:805.9000000000001px;width:1px;height:51.5px;background:#d4d4d4"></div>
<div class="a" style="left:124px;top:816.9000000000001px;width:5px;height:5px;border-radius:50%;background:#9e9e9e"></div>
<div class="t" style="left:138.5px;top:806.4000000000001px;color:#333;letter-spacing:-0.20px">layerId:<span class="md" style="color:#212121;margin-left:3px;letter-spacing:-0.15px">49 (Task=2#49)</span></div>
<div class="a" style="left:124px;top:842.9000000000001px;width:5px;height:5px;border-radius:50%;background:#9e9e9e"></div>
<div class="t" style="left:138.5px;top:832.4000000000001px;color:#333;letter-spacing:-0.20px">mode:<span class="md" style="color:#212121;margin-left:3px;letter-spacing:-0.88px;font-size:14px">TO_BACK</span></div>
<svg style="left:91px;top:869.4000000000001px" width="11" height="6" viewBox="0 0 11 6"><path d="M0 0H10.5L5.25 5.5Z" fill="#1a1a1a"/></svg>
<div class="t" style="left:108px;top:858.4000000000001px;color:#333;letter-spacing:-0.20px">6</div>
<div class="a" style="left:124px;top:894.9000000000001px;width:5px;height:5px;border-radius:50%;background:#9e9e9e"></div>
<div class="t" style="left:138.5px;top:884.4000000000001px;color:#333;letter-spacing:-0.20px">flags:<span class="md" style="color:#212121;margin-left:3px;letter-spacing:-0.88px;font-size:14px">FLAG_IS_WALLPAPER</span></div>
<div class="a" style="left:124px;top:920.9000000000001px;width:5px;height:5px;border-radius:50%;background:#9e9e9e"></div>
<div class="t" style="left:138.5px;top:910.4000000000001px;color:#333;letter-spacing:-0.20px">layerId:<span class="md" style="color:#212121;margin-left:3px;letter-spacing:-0.15px">65 (WallpaperWindowToken{87b6d66 token=android.os.Binder</span></div>
<div class="t md" style="left:185px;top:929.9000000000001px;color:#212121;letter-spacing:-0.25px">@54c71c1}#65)</div>
<div class="a" style="left:124px;top:962.9000000000001px;width:5px;height:5px;border-radius:50%;background:#9e9e9e"></div>
<div class="t" style="left:138.5px;top:952.4000000000001px;color:#333;letter-spacing:-0.20px">mode:<span class="md" style="color:#212121;margin-left:3px;letter-spacing:-0.88px;font-size:14px">TO_FRONT</span></div>
<div class="a" style="left:96px;top:883.9000000000001px;width:1px;height:93.09999999999991px;background:#d4d4d4"></div>
<div class="t" style="left:90.5px;top:978.4000000000001px;color:#333;letter-spacing:-0.20px">type:<span class="md" style="color:#212121;margin-left:3px;letter-spacing:-0.88px;font-size:14px">TO_FRONT</span></div>
</div>
<div class="a" style="left:2519px;top:1222px;width:41px;height:41px;background:#fafafa;border-radius:8px 8px 0 0;box-shadow:0 -1px 1px rgba(0,0,0,0.12)"></div>
<svg style="left:2529px;top:1232px" width="22" height="22" viewBox="0 0 22 22"><circle cx="11" cy="11" r="9.5" fill="none" stroke="#111" stroke-width="2"/><path d="M7 12.5L11 8.5L15 12.5" fill="none" stroke="#111" stroke-width="2"/></svg>
<div class="a" style="left:0;top:1263px;width:2560px;height:129px;background:#f8f9fa"></div>
<div class="a" style="left:8px;top:1270px;width:282px;height:116px;border-radius:12px;background:#eeeff1"></div>
<div class="a" style="left:22px;top:1281px;width:254px;height:23px;background:#e5e6e8;border-bottom:1px solid #5f5f5f"></div>
<div class="a" style="left:22px;top:1310px;width:254px;height:23px;background:#e5e6e8;border-bottom:1px solid #5f5f5f"></div>
<div class="a" style="left:22px;top:1346px;width:254px;height:24px;border-radius:12px;background:#dddddd"></div>
<svg style="left:23px;top:1285px" width="16" height="16" viewBox="0 0 16 16"><circle cx="8" cy="8" r="6.6" fill="none" stroke="#222" stroke-width="1.5"/><path d="M7.5 4V8.5L10.5 10.5" fill="none" stroke="#222" stroke-width="1.4"/></svg>
<div class="t" style="left:48px;top:1282px;font-size:12.4px;font-weight:700;letter-spacing:-0.15px;color:#222">15:50:57.205</div>
<div class="t" style="left:194px;top:1283px;font-size:12px;letter-spacing:-0.3px;color:#333">UTC-04:00</div>
<svg style="left:25px;top:1314px" width="13" height="15" viewBox="0 0 13 15"><path d="M1.5 14.5V1.5H7.5L8 3.5H11.5V10H7L6.5 8H1.5" fill="none" stroke="#222" stroke-width="1.5"/></svg>
<div class="t" style="left:48px;top:1311px;font-size:12.4px;font-weight:700;letter-spacing:-0.1px;color:#222">1713469857205164013 ns</div>
<svg style="left:256px;top:1284px" width="16" height="17" viewBox="0 0 16 17"><path d="M1.5 13V1.5H11" fill="none" stroke="#333" stroke-width="1.5"/><rect x="4.5" y="4.5" width="9.5" height="11.5" rx="1.2" fill="none" stroke="#333" stroke-width="1.6"/></svg>
<svg style="left:256px;top:1313px" width="16" height="17" viewBox="0 0 16 17"><path d="M1.5 13V1.5H11" fill="none" stroke="#333" stroke-width="1.5"/><rect x="4.5" y="4.5" width="9.5" height="11.5" rx="1.2" fill="none" stroke="#333" stroke-width="1.6"/></svg>
<svg style="left:30px;top:1352px" width="8" height="11" viewBox="0 0 8 11"><path d="M6.5 1L2 5.5L6.5 10" fill="none" stroke="#222" stroke-width="1.6"/></svg>
<svg style="left:260px;top:1352px" width="8" height="11" viewBox="0 0 8 11"><path d="M1.5 1L6 5.5L1.5 10" fill="none" stroke="#222" stroke-width="1.6"/></svg>
<div class="a" style="left:298px;top:1270px;width:80px;height:116px;border-radius:12px;background:#eeeff1"></div>
<div class="t md" style="left:309px;top:1274px;color:#212121;letter-spacing:-0.25px">Filter</div>
<svg style="left:344px;top:1274px" width="22" height="22" viewBox="0 0 22 22"><circle cx="11" cy="11" r="9.6" fill="none" stroke="#111" stroke-width="2"/><path d="M6.8 12.8L11 8.6L15.2 12.8" fill="none" stroke="#111" stroke-width="2"/></svg>
<svg style="left:318px;top:1302px" width="15" height="15" viewBox="0 0 15 15"><path d="M7.5 0L14 5L7.5 10L1 5Z" fill="#4fcbe4"/><path d="M1.5 8.5L7.5 13L13.5 8.5" fill="none" stroke="#4fcbe4" stroke-width="1.6"/></svg>
<svg style="left:344px;top:1304px" width="15" height="10" viewBox="0 0 15 10"><path d="M0.5 9.5L5 5L7.5 7.5L14.5 0.5" fill="none" stroke="#137333" stroke-width="1.6"/></svg>
<svg style="left:330px;top:1320px" width="17" height="17" viewBox="0 0 17 17"><circle cx="6" cy="11" r="4.6" fill="none" stroke="#d61b8f" stroke-width="1.5"/><circle cx="8.5" cy="8.5" r="4.6" fill="none" stroke="#d61b8f" stroke-width="1.5"/><circle cx="11" cy="6" r="4.6" fill="none" stroke="#d61b8f" stroke-width="1.5"/></svg>
<svg style="left:392px;top:1279px" width="19" height="19" viewBox="0 0 19 19"><circle cx="7.5" cy="7.5" r="6" fill="none" stroke="#111" stroke-width="1.8"/><path d="M11.8 11.8L17.5 17.5" stroke="#111" stroke-width="2"/><path d="M7.5 4.5V10.5M4.5 7.5H10.5" stroke="#111" stroke-width="1.5"/></svg>
<svg style="left:392px;top:1319px" width="19" height="19" viewBox="0 0 19 19"><circle cx="7.5" cy="7.5" r="6" fill="none" stroke="#111" stroke-width="1.8"/><path d="M11.8 11.8L17.5 17.5" stroke="#111" stroke-width="2"/><path d="M4.5 7.5H10.5" stroke="#111" stroke-width="1.5"/></svg>
<svg style="left:390px;top:1357px" width="24" height="24" viewBox="0 0 24 24"><path d="M17.65 6.35A7.958 7.958 0 0 0 12 4c-4.42 0-7.99 3.58-7.99 8s3.57 8 7.99 8c3.73 0 6.84-2.55 7.73-6h-2.08A5.99 5.99 0 0 1 12 18c-3.31 0-6-2.69-6-6s2.69-6 6-6c1.66 0 3.14.69 4.22 1.78L13 11h7V4l-2.35 2.35z" fill="#111"/></svg>
<div class="a" style="left:414px;top:1363px;width:2126px;height:8px;background:#e3ebfb"></div>
<div class="a" style="left:414px;top:1381px;width:2116px;height:3px;background:#9aa0a6"></div>
<div class="a" style="left:421px;top:1341px;width:10px;height:9px;background:#4ecde6;border-radius:2px"></div>
<div class="a" style="left:517px;top:1341px;width:630px;height:9px;background:#4ecde6;border-radius:2px"></div>
<div class="a" style="left:1519.5px;top:1341px;width:87.5px;height:9px;background:#4ecde6;border-radius:2px"></div>
<div class="a" style="left:1653px;top:1341px;width:5.5px;height:9px;background:#4ecde6;border-radius:2px;opacity:0.65"></div>
<div class="a" style="left:1660px;top:1341px;width:148px;height:9px;background:#4ecde6;border-radius:2px"></div>
<div class="a" style="left:1810px;top:1341px;width:189px;height:9px;background:#4ecde6;border-radius:2px"></div>
<div class="a" style="left:2059px;top:1341px;width:5.5px;height:9px;background:#4ecde6;border-radius:2px"></div>
<div class="a" style="left:2135.5px;top:1341px;width:44.0px;height:9px;background:#4ecde6;border-radius:2px"></div>
<div class="a" style="left:2193px;top:1341px;width:207.5px;height:9px;background:#4ecde6;border-radius:2px"></div>
<div class="a" style="left:414px;top:1352px;width:17px;height:9px;background:#0d652d;border-radius:0 2px 2px 0"></div>
<div class="a" style="left:517px;top:1352px;width:631px;height:9px;background:#0d652d;border-radius:2px"></div>
<div class="a" style="left:1519.5px;top:1352px;width:87.5px;height:9px;background:#0d652d;border-radius:2px"></div>
<div class="a" style="left:1653px;top:1352px;width:5.5px;height:9px;background:#0d652d;border-radius:2px;opacity:0.85"></div>
<div class="a" style="left:1660px;top:1352px;width:148px;height:9px;background:#0d652d;border-radius:2px"></div>
<div class="a" style="left:1810px;top:1352px;width:189px;height:9px;background:#0d652d;border-radius:2px"></div>
<div class="a" style="left:2059px;top:1352px;width:5.5px;height:9px;background:#0d652d;border-radius:2px;opacity:0.85"></div>
<div class="a" style="left:2135.5px;top:1352px;width:44.0px;height:9px;background:#0d652d;border-radius:2px"></div>
<div class="a" style="left:2193px;top:1352px;width:207.5px;height:9px;background:#0d652d;border-radius:2px"></div>
<div class="a" style="left:2409px;top:1352px;width:11px;height:9px;background:#0d652d;border-radius:2px"></div>
<div class="a" style="left:2436px;top:1352px;width:52px;height:9px;background:#0d652d;border-radius:2px"></div>
<div class="a" style="left:523px;top:1363px;width:192px;height:8px;background:#d656a9"></div>
<div class="a" style="left:758px;top:1266px;width:3px;height:115px;background:#1a66d8"></div>
<svg style="left:749.5px;top:1263px" width="20" height="12" viewBox="0 0 20 12"><path d="M0 0H20L10 11Z" fill="#1a66d8"/></svg>
<div class="a" style="left:2530px;top:1377px;width:5px;height:10px;background:#8ab4f8"></div>
<div class="a" style="left:2535px;top:1377px;width:20px;height:10px;background:#e8f0fe"></div>
<div class="a" style="left:2545px;top:1378px;width:2px;height:8px;background:#1a66d8"></div>
<div class="a" style="left:2555px;top:1377px;width:5px;height:10px;background:#8ab4f8"></div>
</body></html>
